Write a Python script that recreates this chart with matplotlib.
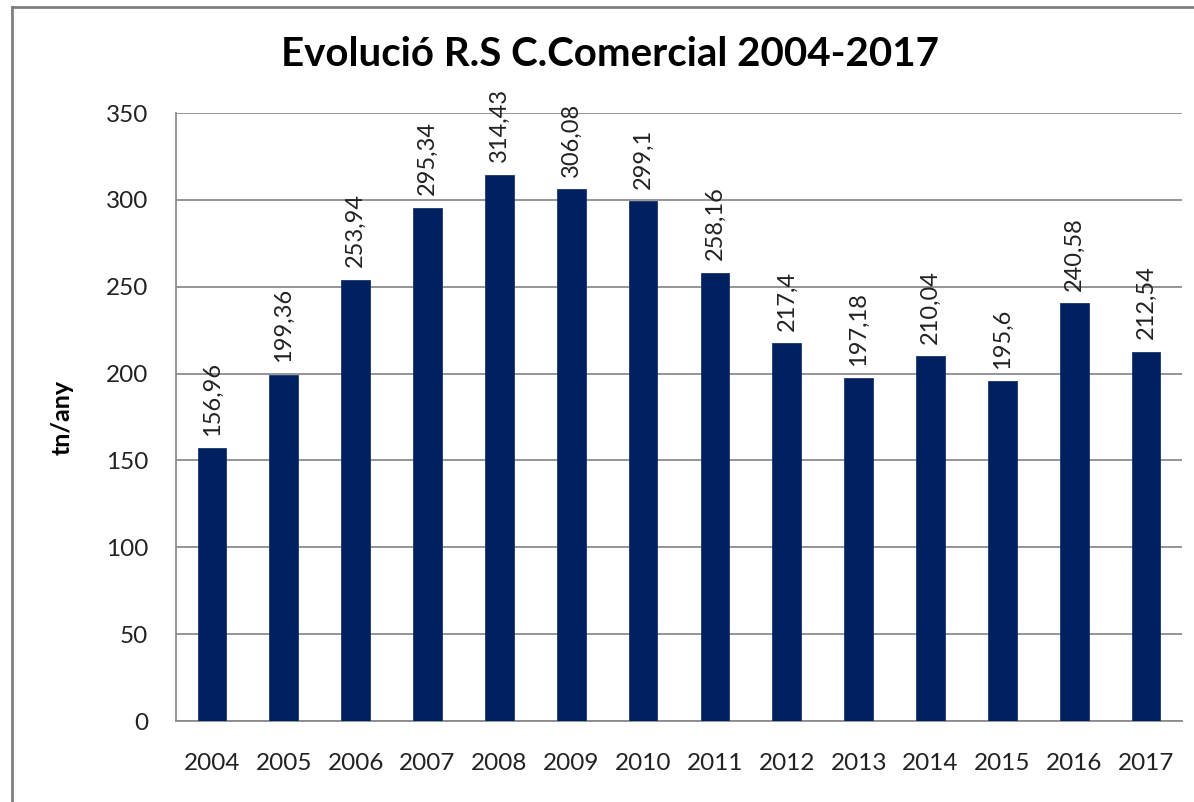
"""
Bar chart: Evolucio R.S C.Comercial 2004-2017
"""

import matplotlib
matplotlib.use('Agg')
import matplotlib.pyplot as plt
from matplotlib.lines import Line2D

# ========================================
# DATA
# ========================================

years = ['2004', '2005', '2006', '2007', '2008', '2009', '2010',
         '2011', '2012', '2013', '2014', '2015', '2016', '2017']
tonnes = [156.96, 199.36, 253.94, 295.34, 314.43, 306.08, 299.1,
          258.16, 217.4, 197.18, 210.04, 195.6, 240.58, 212.54]
value_labels = ['156,96', '199,36', '253,94', '295,34', '314,43', '306,08', '299,1',
                '258,16', '217,4', '197,18', '210,04', '195,6', '240,58', '212,54']
y_ticks = [0, 50, 100, 150, 200, 250, 300, 350]

plt.rcParams['font.family'] = ['Lato', 'DejaVu Sans']

# Create figure
fig = plt.figure(figsize=(11.94, 8.02), dpi=100)
ax = fig.add_axes([176 / 1194, 1 - 721 / 802, (1182 - 176) / 1194, (721 - 113) / 802])

x = list(range(len(years)))
bars = ax.bar(x, tonnes, width=0.4, color='#00205F', edgecolor='#1a3570',
              linewidth=0.6, zorder=3)

# value labels, rotated like the original
for xi, val, txt in zip(x, tonnes, value_labels):
    ax.annotate(txt, (xi, val), xytext=(0, 9), textcoords='offset points',
                rotation=90, ha='center', va='bottom', fontsize=17, color='#222222')

# axes styling
ax.set_xlim(-0.5, len(years) - 0.5)
ax.set_ylim(0, 350)
ax.set_yticks(y_ticks)
ax.set_xticks(x)
ax.set_xticklabels(years)
ax.tick_params(axis='both', length=0, labelsize=17.5, colors='#222222')
ax.tick_params(axis='y', pad=20)
ax.tick_params(axis='x', pad=23)
ax.grid(axis='y', color='#8c8c8c', linewidth=1.3, zorder=0)
for side in ['left', 'bottom', 'top', 'right']:
    ax.spines[side].set_color('#8c8c8c')
    ax.spines[side].set_linewidth(1.3)
ax.spines['top'].set_visible(False)
ax.spines['right'].set_visible(False)

ax.set_ylabel('tn/any', fontsize=18, fontweight='bold')
ax.yaxis.set_label_coords(-0.102, 0.5)

fig.text(0.511, 1 - 55 / 802, 'Evolució R.S C.Comercial 2004-2017',
         ha='center', va='center', fontsize=29, fontweight='bold')

# outer chart border (only top and left visible)
fig.add_artist(Line2D([12 / 1194, 12 / 1194], [0, 1 - 7 / 802],
                      transform=fig.transFigure, color='#7f7f7f', linewidth=2))
fig.add_artist(Line2D([12 / 1194, 1], [1 - 7 / 802, 1 - 7 / 802],
                      transform=fig.transFigure, color='#7f7f7f', linewidth=2))

fig.savefig('out.png', dpi=100)
